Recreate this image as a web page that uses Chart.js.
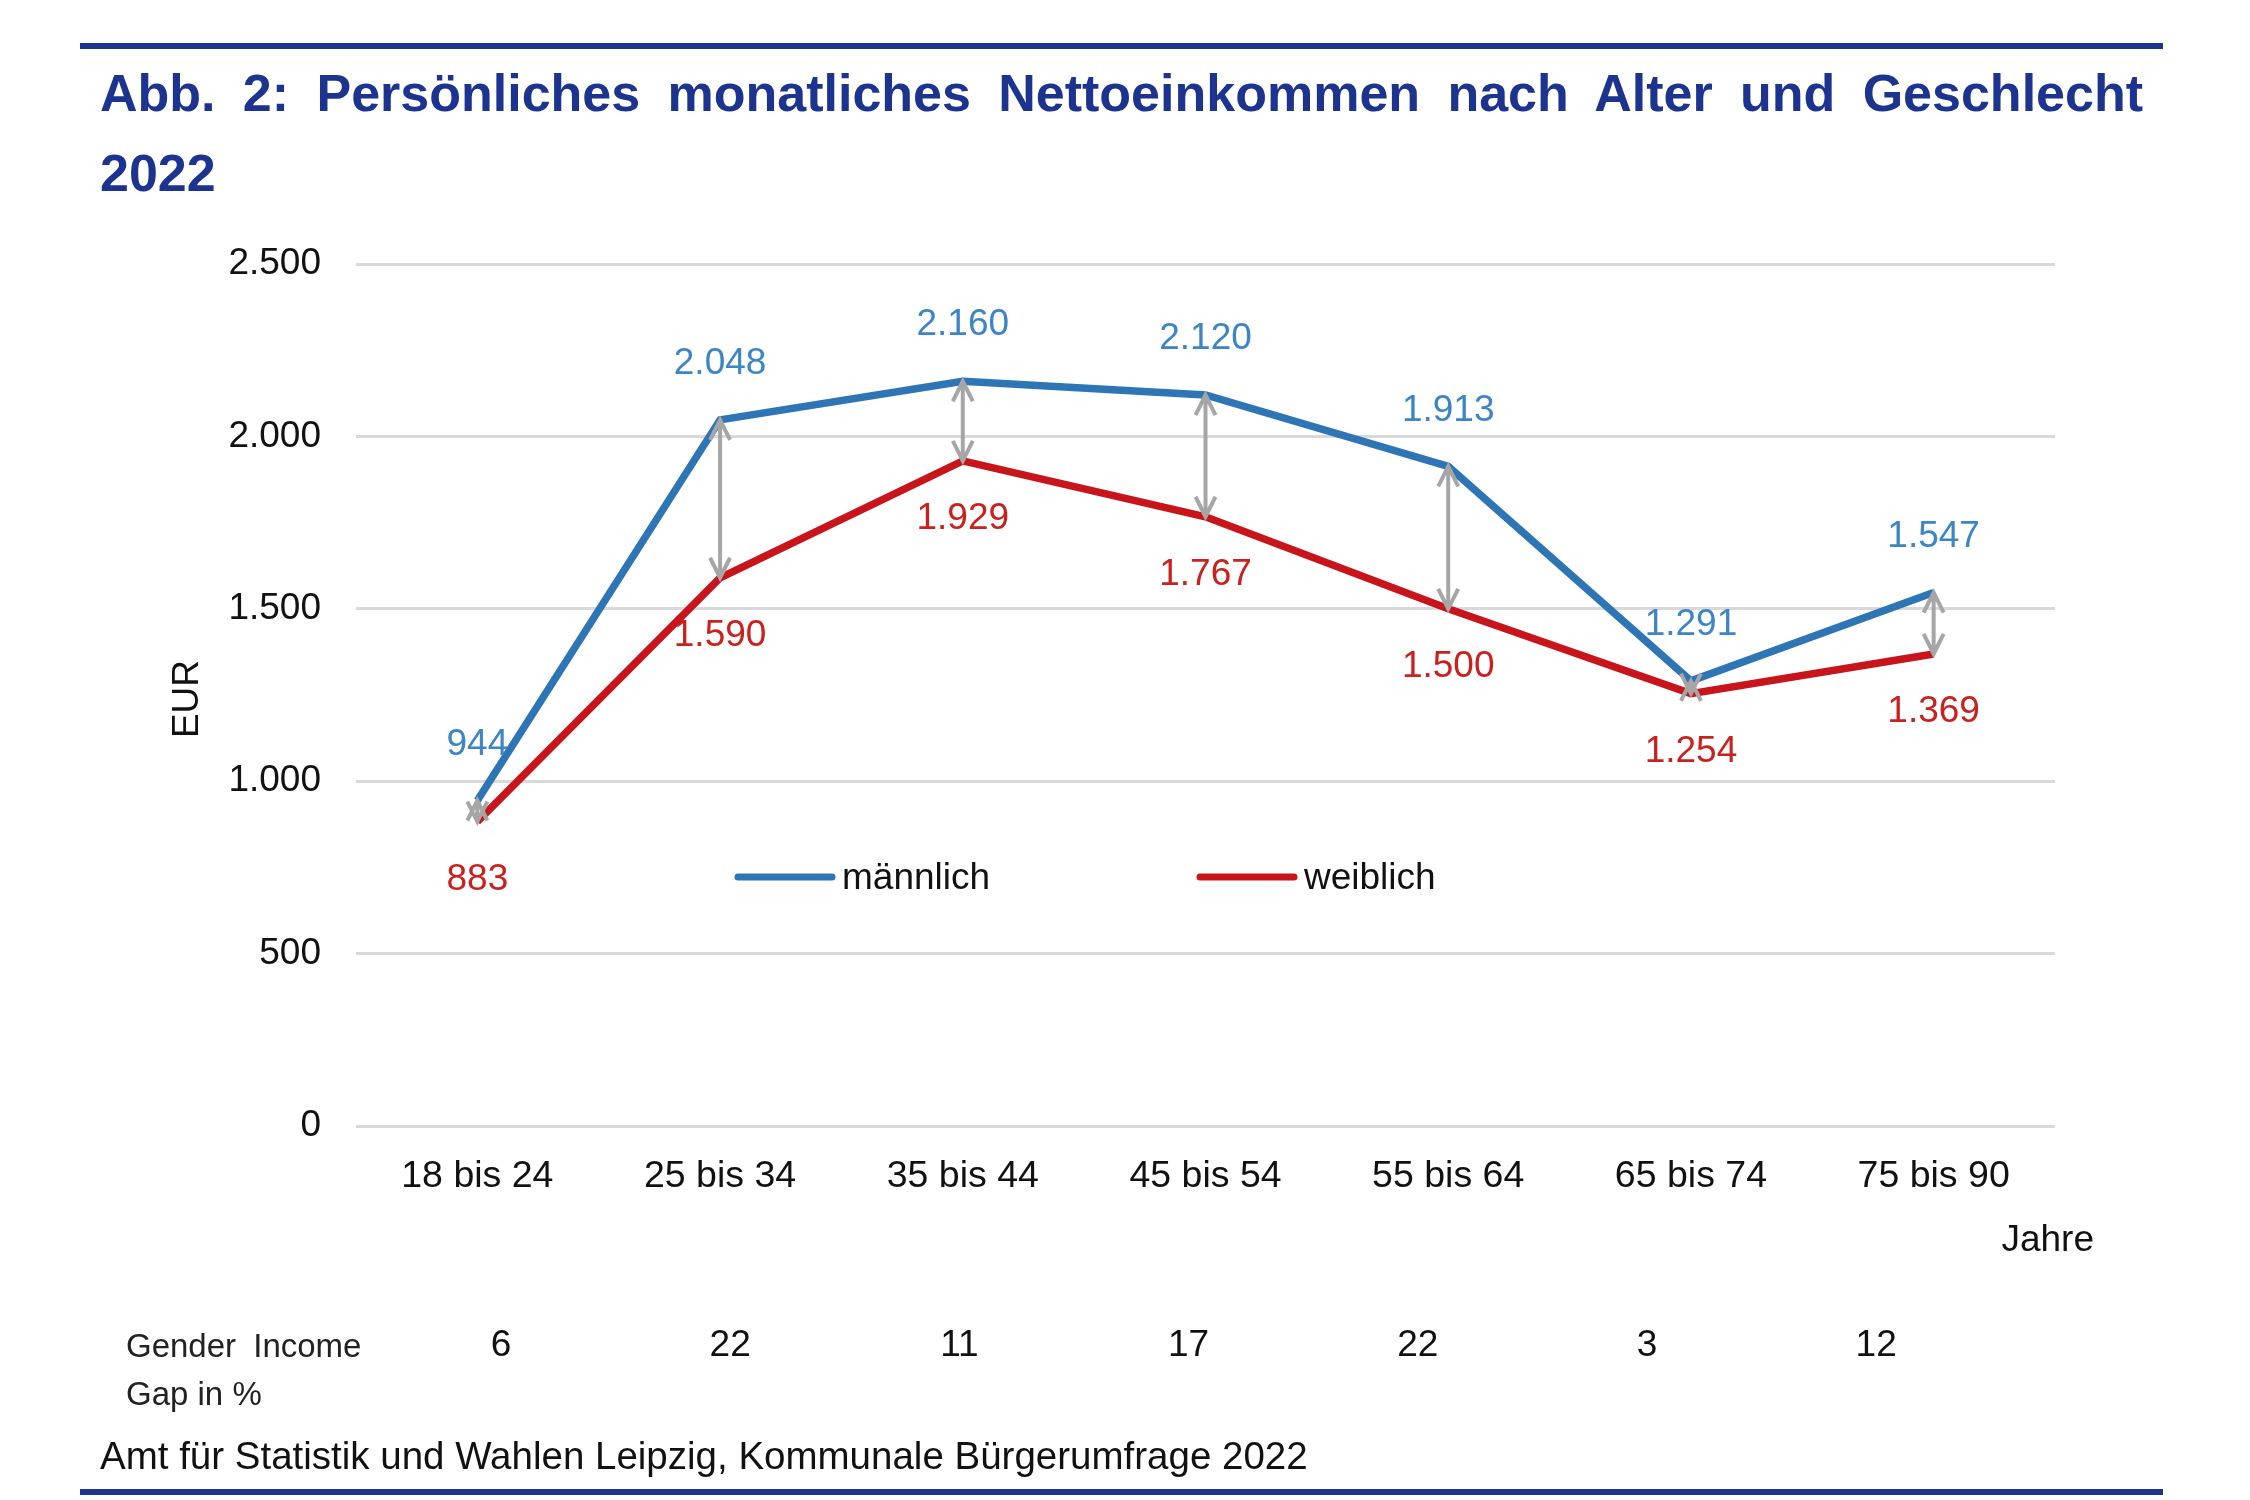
<!DOCTYPE html>
<html>
<head>
<meta charset="utf-8">
<script src="https://cdn.jsdelivr.net/npm/chart.js@4.4.1/dist/chart.umd.min.js"></script>
<style>
  body { margin: 0; background: #fff; font-family: "Liberation Sans", Arial, sans-serif; }
  #wrap { position: relative; width: 2250px; height: 1500px; }
  #chartBox { position: absolute; left: 0; top: 0; width: 2250px; height: 1500px; }
  .rule { position: absolute; left: 80px; width: 2083px; height: 6px; background: #1c3390; }
  #title { position: absolute; left: 100px; top: 53px; width: 2043px; color: #1c3390;
           font-weight: bold; font-size: 52px; line-height: 80px; }
  #title .l1 { text-align: justify; text-align-last: justify; white-space: nowrap; }
  #gapLabel { position: absolute; left: 126px; top: 1322px; font-size: 33px; line-height: 48px; color: #222; }
  #source { position: absolute; left: 100px; top: 1434px; font-size: 38.5px; color: #111; }
</style>
</head>
<body>
<div id="wrap">
  <div class="rule" style="top:43px"></div>
  <div id="title">
    <div class="l1">Abb. 2: Persönliches monatliches Nettoeinkommen nach Alter und Geschlecht</div>
    <div>2022</div>
  </div>
  <div id="chartBox"><canvas id="chart"></canvas></div>
  <div id="gapLabel"><span style="word-spacing:8px">Gender Income</span><br>Gap in %</div>
  <div id="source">Amt für Statistik und Wahlen Leipzig, Kommunale Bürgerumfrage 2022</div>
  <div class="rule" style="top:1489px"></div>
</div>
<script>
// Daten
const categories = ['18 bis 24', '25 bis 34', '35 bis 44', '45 bis 54', '55 bis 64', '65 bis 74', '75 bis 90'];
const maennlich = [944, 2048, 2160, 2120, 1913, 1291, 1547];
const weiblich = [883, 1590, 1929, 1767, 1500, 1254, 1369];
const gapProzent = [6, 22, 11, 17, 22, 3, 12];
const yMax = 2500;
const yStep = 500;

const blau = '#2e75b6';
const rot = '#c8151b';
const FONT = '"Liberation Sans", Arial, sans-serif';

function fmt(v) {
    return String(v).replace(/\B(?=(\d{3})+(?!\d))/g, '.');
}

const extras = {
    id: 'extras',
    afterDatasetsDraw(chart) {
        const ctx = chart.ctx;
        const x = chart.scales.x;
        const y = chart.scales.y;
        ctx.save();

        // Pfeile zwischen den Linien
        ctx.strokeStyle = '#a6a6a6';
        ctx.lineWidth = 4;
        categories.forEach((c, i) => {
            const px = x.getPixelForValue(i);
            const ym = y.getPixelForValue(maennlich[i]);
            const yw = y.getPixelForValue(weiblich[i]);
            ctx.beginPath();
            ctx.moveTo(px, ym);
            ctx.lineTo(px, yw);
            ctx.moveTo(px - 10, ym + 20); ctx.lineTo(px, ym); ctx.lineTo(px + 10, ym + 20);
            ctx.moveTo(px - 10, yw - 20); ctx.lineTo(px, yw); ctx.lineTo(px + 10, yw - 20);
            ctx.stroke();
        });

        // Datenbeschriftungen
        ctx.font = '37px ' + FONT;
        ctx.textAlign = 'center';
        ctx.textBaseline = 'middle';
        categories.forEach((c, i) => {
            const px = x.getPixelForValue(i);
            ctx.fillStyle = '#3d85c6';
            ctx.fillText(fmt(maennlich[i]), px, y.getPixelForValue(maennlich[i]) - 56);
            ctx.fillStyle = '#c9211e';
            ctx.fillText(fmt(weiblich[i]), px, y.getPixelForValue(weiblich[i]) + 58);
        });

        // Legende
        const leg = [[chart.data.datasets[0], 738], [chart.data.datasets[1], 1200]];
        leg.forEach(([ds, lx]) => {
            ctx.strokeStyle = ds.borderColor;
            ctx.lineWidth = 7;
            ctx.lineCap = 'round';
            ctx.beginPath();
            ctx.moveTo(lx, 877);
            ctx.lineTo(lx + 94, 877);
            ctx.stroke();
            ctx.fillStyle = '#111';
            ctx.textAlign = 'left';
            ctx.fillText(ds.label, lx + 104, 879);
        });

        // Achsentitel
        ctx.fillStyle = '#111';
        ctx.save();
        ctx.translate(188, 699);
        ctx.rotate(-Math.PI / 2);
        ctx.textAlign = 'center';
        ctx.fillText('EUR', 0, 0);
        ctx.restore();
        ctx.textAlign = 'right';
        ctx.fillText('Jahre', 2094, 1241);

        // Gender Income Gap
        ctx.textAlign = 'center';
        gapProzent.forEach((g, i) => {
            ctx.fillText(String(g), 501 + i * 229.2, 1346);
        });
        ctx.restore();
    }
};

new Chart(document.getElementById('chart'), {
    type: 'line',
    data: {
        labels: categories,
        datasets: [{
            label: 'männlich',
            data: maennlich,
            borderColor: blau,
            borderWidth: 7.5,
            pointRadius: 0,
            tension: 0
        }, {
            label: 'weiblich',
            data: weiblich,
            borderColor: rot,
            borderWidth: 7.5,
            pointRadius: 0,
            tension: 0
        }]
    },
    options: {
        responsive: true,
        maintainAspectRatio: false,
        animation: false,
        layout: { padding: { top: 264, right: 195, left: 0, bottom: 0 } },
        plugins: {
            legend: { display: false },
            tooltip: { enabled: false }
        },
        scales: {
            x: {
                offset: true,
                grid: { display: false },
                border: { display: false },
                ticks: { font: { family: FONT, size: 37.5 }, color: '#111', padding: 20, maxRotation: 0 },
                afterFit: s => { s.height = 374; }
            },
            y: {
                min: 0,
                max: yMax,
                ticks: {
                    stepSize: yStep,
                    font: { family: FONT, size: 37 },
                    color: '#111',
                    padding: 35,
                    callback: v => fmt(v)
                },
                grid: { color: '#d9d9d9', lineWidth: 3, drawTicks: false },
                border: { display: false },
                afterFit: s => { s.width = 356; }
            }
        }
    },
    plugins: [extras]
});
</script>
</body>
</html>
